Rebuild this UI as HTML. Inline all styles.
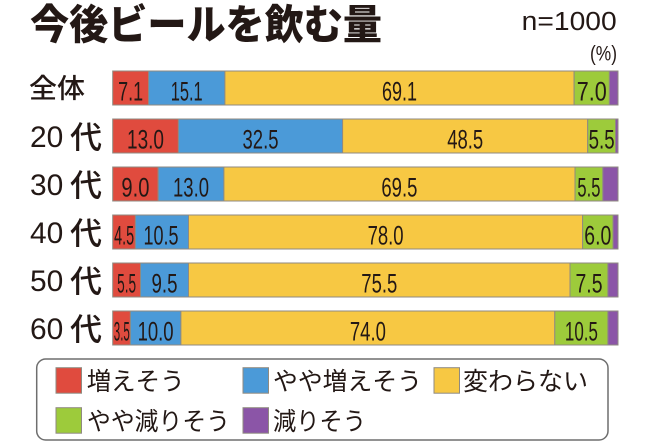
<!DOCTYPE html>
<html>
<head>
<meta charset="utf-8">
<style>
  html,body{margin:0;padding:0;background:#fff;}
  svg{display:block;}
  .jp{font-family:"Liberation Sans","Noto Sans CJK JP",sans-serif;}
  .num{font-family:"Liberation Sans",sans-serif;fill:#231815;}
</style>
</head>
<body>
<svg width="645" height="447" viewBox="0 0 645 447" xmlns="http://www.w3.org/2000/svg">
  <rect width="645" height="447" fill="#fff"/>
  <!-- Title -->
  <text x="30" y="39" class="jp" font-size="41" font-weight="900" fill="#231815" textLength="352" lengthAdjust="spacingAndGlyphs">今後ビールを飲む量</text>
  <text x="521.7" y="30" class="num" font-size="25.5" textLength="95" lengthAdjust="spacingAndGlyphs">n=1000</text>
  <text x="590" y="60.5" class="num" font-size="21" textLength="27" lengthAdjust="spacingAndGlyphs">(%)</text>

  <!-- Row labels -->
  <text x="29" y="98" class="jp" font-size="27" font-weight="500" fill="#231815" textLength="56" lengthAdjust="spacingAndGlyphs">全体</text>
  <g font-weight="500" fill="#231815">
    <text x="30" y="147" class="num" font-size="30" textLength="33.3" lengthAdjust="spacingAndGlyphs">20</text>
    <text x="70" y="148.5" class="jp" font-size="31" textLength="32" lengthAdjust="spacingAndGlyphs">代</text>
    <text x="30" y="195" class="num" font-size="30" textLength="33.3" lengthAdjust="spacingAndGlyphs">30</text>
    <text x="70" y="196.5" class="jp" font-size="31" textLength="32" lengthAdjust="spacingAndGlyphs">代</text>
    <text x="30" y="243" class="num" font-size="30" textLength="33.3" lengthAdjust="spacingAndGlyphs">40</text>
    <text x="70" y="244.5" class="jp" font-size="31" textLength="32" lengthAdjust="spacingAndGlyphs">代</text>
    <text x="30" y="291" class="num" font-size="30" textLength="33.3" lengthAdjust="spacingAndGlyphs">50</text>
    <text x="70" y="292.5" class="jp" font-size="31" textLength="32" lengthAdjust="spacingAndGlyphs">代</text>
    <text x="30" y="339" class="num" font-size="30" textLength="33.3" lengthAdjust="spacingAndGlyphs">60</text>
    <text x="70" y="340.5" class="jp" font-size="31" textLength="32" lengthAdjust="spacingAndGlyphs">代</text>
  </g>

  <!-- Bars -->
  <g stroke="#8f8a80" stroke-width="1">
    <rect x="112.7" y="71" width="35.9" height="34" fill="#e04b3e"/>
    <rect x="148.6" y="71" width="76.3" height="34" fill="#4b9ad8"/>
    <rect x="224.9" y="71" width="349.2" height="34" fill="#f7c843"/>
    <rect x="574.1" y="71" width="35.3" height="34" fill="#9dcb3b"/>
    <rect x="609.4" y="71" width="8.6" height="34" fill="#8b55a7"/>

    <rect x="112.7" y="119" width="65.7" height="34" fill="#e04b3e"/>
    <rect x="178.4" y="119" width="164.2" height="34" fill="#4b9ad8"/>
    <rect x="342.6" y="119" width="245.1" height="34" fill="#f7c843"/>
    <rect x="587.7" y="119" width="27.8" height="34" fill="#9dcb3b"/>
    <rect x="615.5" y="119" width="2.5" height="34" fill="#8b55a7"/>

    <rect x="112.7" y="167" width="45.5" height="34" fill="#e04b3e"/>
    <rect x="158.2" y="167" width="65.7" height="34" fill="#4b9ad8"/>
    <rect x="223.9" y="167" width="351.1" height="34" fill="#f7c843"/>
    <rect x="575.0" y="167" width="27.8" height="34" fill="#9dcb3b"/>
    <rect x="602.8" y="167" width="15.2" height="34" fill="#8b55a7"/>

    <rect x="112.7" y="215" width="22.7" height="34" fill="#e04b3e"/>
    <rect x="135.4" y="215" width="53.1" height="34" fill="#4b9ad8"/>
    <rect x="188.5" y="215" width="394.1" height="34" fill="#f7c843"/>
    <rect x="582.6" y="215" width="30.4" height="34" fill="#9dcb3b"/>
    <rect x="613.0" y="215" width="5.0" height="34" fill="#8b55a7"/>

    <rect x="112.7" y="263" width="27.8" height="34" fill="#e04b3e"/>
    <rect x="140.5" y="263" width="48.0" height="34" fill="#4b9ad8"/>
    <rect x="188.5" y="263" width="381.5" height="34" fill="#f7c843"/>
    <rect x="570.0" y="263" width="37.9" height="34" fill="#9dcb3b"/>
    <rect x="607.9" y="263" width="10.1" height="34" fill="#8b55a7"/>

    <rect x="112.7" y="311" width="17.7" height="34" fill="#e04b3e"/>
    <rect x="130.4" y="311" width="50.5" height="34" fill="#4b9ad8"/>
    <rect x="180.9" y="311" width="373.9" height="34" fill="#f7c843"/>
    <rect x="554.8" y="311" width="53.1" height="34" fill="#9dcb3b"/>
    <rect x="607.9" y="311" width="10.1" height="34" fill="#8b55a7"/>
  </g>

  <!-- Bar values -->
  <g class="num" font-size="26.5" text-anchor="middle">
    <text x="130.6" y="100.5" textLength="25" lengthAdjust="spacingAndGlyphs">7.1</text>
    <text x="186.7" y="100.5" textLength="32" lengthAdjust="spacingAndGlyphs">15.1</text>
    <text x="399.5" y="100.5" textLength="35" lengthAdjust="spacingAndGlyphs">69.1</text>
    <text x="591.8" y="100.5" textLength="30" lengthAdjust="spacingAndGlyphs">7.0</text>

    <text x="145.5" y="148.5" textLength="37" lengthAdjust="spacingAndGlyphs">13.0</text>
    <text x="260.5" y="148.5" textLength="36" lengthAdjust="spacingAndGlyphs">32.5</text>
    <text x="465.2" y="148.5" textLength="36" lengthAdjust="spacingAndGlyphs">48.5</text>
    <text x="601.6" y="148.5" textLength="26" lengthAdjust="spacingAndGlyphs">5.5</text>

    <text x="135.4" y="196.5" textLength="28" lengthAdjust="spacingAndGlyphs">9.0</text>
    <text x="191.0" y="196.5" textLength="36" lengthAdjust="spacingAndGlyphs">13.0</text>
    <text x="399.4" y="196.5" textLength="36" lengthAdjust="spacingAndGlyphs">69.5</text>
    <text x="588.9" y="196.5" textLength="23" lengthAdjust="spacingAndGlyphs">5.5</text>

    <text x="124.1" y="244.5" textLength="20" lengthAdjust="spacingAndGlyphs">4.5</text>
    <text x="161.0" y="244.5" textLength="35" lengthAdjust="spacingAndGlyphs">10.5</text>
    <text x="385.6" y="244.5" textLength="36" lengthAdjust="spacingAndGlyphs">78.0</text>
    <text x="597.8" y="244.5" textLength="27" lengthAdjust="spacingAndGlyphs">6.0</text>

    <text x="126.6" y="292.5" textLength="19" lengthAdjust="spacingAndGlyphs">5.5</text>
    <text x="164.5" y="292.5" textLength="26" lengthAdjust="spacingAndGlyphs">9.5</text>
    <text x="379.3" y="292.5" textLength="36" lengthAdjust="spacingAndGlyphs">75.5</text>
    <text x="589.0" y="292.5" textLength="27" lengthAdjust="spacingAndGlyphs">7.5</text>

    <text x="121.8" y="340.5" textLength="16" lengthAdjust="spacingAndGlyphs">3.5</text>
    <text x="155.6" y="340.5" textLength="36" lengthAdjust="spacingAndGlyphs">10.0</text>
    <text x="367.9" y="340.5" textLength="36" lengthAdjust="spacingAndGlyphs">74.0</text>
    <text x="581.4" y="340.5" textLength="33" lengthAdjust="spacingAndGlyphs">10.5</text>
  </g>

  <!-- Legend -->
  <rect x="36.7" y="359" width="571.3" height="81" rx="9" ry="9" fill="#fff" stroke="#6e6e6e" stroke-width="1.5"/>
  <g stroke="#8f8a80" stroke-width="1">
    <rect x="56" y="367.7" width="25.5" height="25.5" fill="#e04b3e"/>
    <rect x="243" y="367.7" width="25.5" height="25.5" fill="#4b9ad8"/>
    <rect x="434" y="367.7" width="25.5" height="25.5" fill="#f7c843"/>
    <rect x="56" y="407.7" width="25.5" height="25.5" fill="#9dcb3b"/>
    <rect x="243" y="407.7" width="25.5" height="25.5" fill="#8b55a7"/>
  </g>
  <g class="jp" font-size="25" fill="#231815">
    <text x="86.7" y="390" textLength="98" lengthAdjust="spacingAndGlyphs">増えそう</text>
    <text x="273" y="390" textLength="149" lengthAdjust="spacingAndGlyphs">やや増えそう</text>
    <text x="463" y="390" textLength="125" lengthAdjust="spacingAndGlyphs">変わらない</text>
    <text x="87" y="430" textLength="143" lengthAdjust="spacingAndGlyphs">やや減りそう</text>
    <text x="273" y="430" textLength="93" lengthAdjust="spacingAndGlyphs">減りそう</text>
  </g>
</svg>
</body>
</html>
